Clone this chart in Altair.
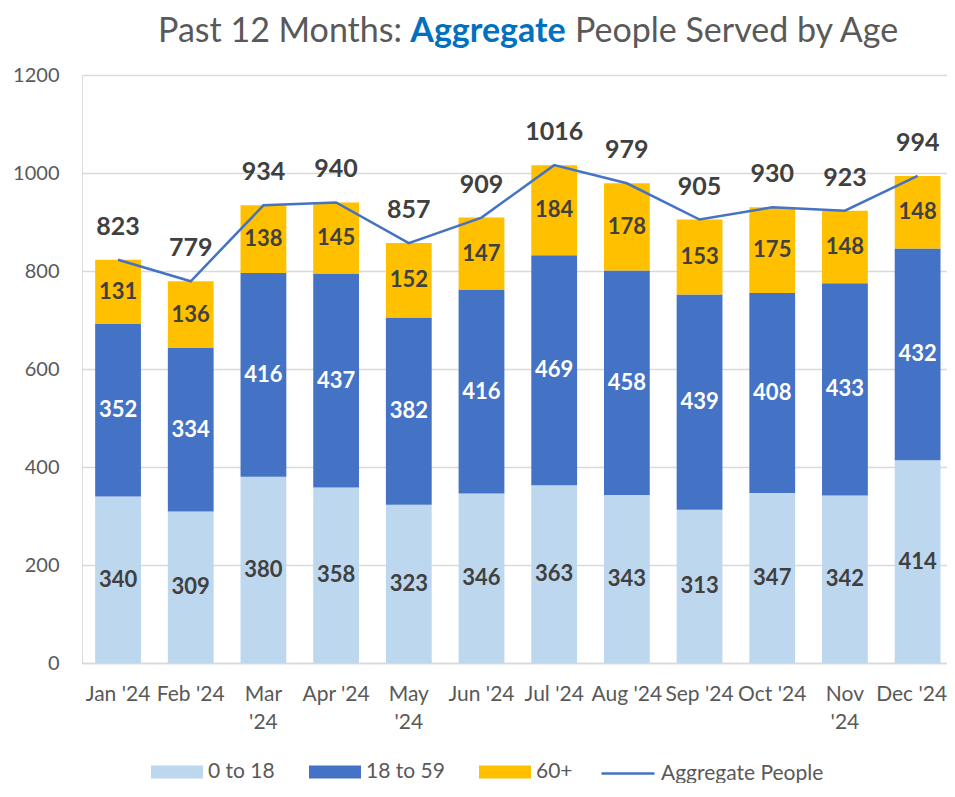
import json
import altair as alt
import pandas as pd

months = ["Jan '24", "Feb '24", "Mar '24", "Apr '24", "May '24", "Jun '24",
          "Jul '24", "Aug '24", "Sep '24", "Oct '24", "Nov '24", "Dec '24"]
wrapped_months = ["Mar '24", "May '24", "Nov '24"]
groups = ["0 to 18", "18 to 59", "60+"]
age_0_18 = [340, 309, 380, 358, 323, 346, 363, 343, 313, 347, 342, 414]
age_18_59 = [352, 334, 416, 437, 382, 416, 469, 458, 439, 408, 433, 432]
age_60_plus = [131, 136, 138, 145, 152, 147, 184, 178, 153, 175, 148, 148]
totals = [823, 779, 934, 940, 857, 909, 1016, 979, 905, 930, 923, 994]
line_series = "Aggregate People"
title_parts = ["Past 12 Months:", "Aggregate", "People Served by Age"]

bar_colors = ["#BDD7EE", "#4472C4", "#FFC000"]
line_color = "#4472C4"
FONT = "Lato"
GRAY = "#595959"
DARK = "#404040"

rows = []
for i, m in enumerate(months):
    for gi, vals in enumerate([age_0_18, age_18_59, age_60_plus]):
        rows.append({"month": m, "group": groups[gi], "value": vals[i], "order": gi})
long_df = pd.DataFrame(rows)
tot_df = pd.DataFrame({"month": months, "total": totals, "series": line_series})

label_expr = (f"indexof({json.dumps(wrapped_months)}, datum.label) >= 0 ? "
              "split(datum.label, ' ') : datum.label")
last_label_offset = {"condition": {"test": f"datum.value == {json.dumps(months[-1])}", "value": -6},
                     "value": 0}

x_scale = alt.Scale(paddingInner=0.37, paddingOuter=0.135, align=0.67)
x_enc = alt.X(
    "month:N", sort=months, title=None, scale=x_scale,
    axis=alt.Axis(labelAngle=0, labelFont=FONT, labelFontSize=21, labelColor=GRAY,
                  labelLineHeight=28, labelPadding=20, labelBaseline="top",
                  labelOffset=last_label_offset,
                  ticks=False, domainColor="#D9D9D9", domainWidth=1.5,
                  labelExpr=label_expr, labelOverlap=False, labelLimit=0),
)
y_scale = alt.Scale(domain=[0, 1200], nice=False)
y_axis = alt.Axis(values=[0, 200, 400, 600, 800, 1000, 1200], format="d", labelFont=FONT,
                  labelFontSize=20, labelColor=GRAY, ticks=False, domain=False,
                  gridColor="#D9D9D9", gridWidth=1.3, labelPadding=23, title=None)

LEG_CENTER = 697  # legend row centre, relative to plot top

bars = alt.Chart(long_df).mark_bar().encode(
    x=x_enc,
    y=alt.Y("value:Q", stack="zero", scale=y_scale, axis=y_axis),
    color=alt.Color(
        "group:N", scale=alt.Scale(domain=groups, range=bar_colors),
        legend=alt.Legend(orient="none", legendX=69, legendY=LEG_CENTER - 26,
                          direction="horizontal",
                          title=None, symbolType="M-1,-0.25H1V0.25H-1Z", symbolSize=2704,
                          symbolStrokeWidth=0, labelFont=FONT, labelFontSize=21,
                          labelColor=GRAY, labelOffset=5, columnPadding=34, labelLimit=0),
    ),
    order=alt.Order("order:Q", sort="ascending"),
)

seg_base = alt.Chart(long_df).transform_stack(
    stack="value", groupby=["month"], as_=["y0", "y1"],
    sort=[alt.SortField("order", order="ascending")],
).transform_calculate(mid="(datum.y0 + datum.y1) / 2")

seg_dark = seg_base.transform_filter(alt.datum.group != "18 to 59").mark_text(
    font=FONT, fontSize=22, fontWeight="bold", color=DARK, baseline="middle"
).encode(x=alt.X("month:N", sort=months), y=alt.Y("mid:Q", scale=y_scale), text="value:Q")

seg_light = seg_base.transform_filter(alt.datum.group == "18 to 59").mark_text(
    font=FONT, fontSize=22, fontWeight="bold", color="#FFFFFF", baseline="middle"
).encode(x=alt.X("month:N", sort=months), y=alt.Y("mid:Q", scale=y_scale), text="value:Q")

line = alt.Chart(tot_df).mark_line(strokeWidth=2.5).encode(
    x=alt.X("month:N", sort=months),
    y=alt.Y("total:Q", scale=y_scale),
    stroke=alt.Stroke(
        "series:N", scale=alt.Scale(domain=[line_series], range=[line_color]),
        legend=alt.Legend(orient="none", legendX=518, legendY=LEG_CENTER - 26.5, title=None,
                          symbolType="stroke", symbolSize=2809, symbolStrokeWidth=2.5,
                          labelFont=FONT, labelFontSize=21, labelColor=GRAY, labelOffset=5,
                          labelLimit=0),
    ),
)

tot_text = alt.Chart(tot_df).mark_text(
    font=FONT, fontSize=25, fontWeight="bold", color=DARK, baseline="middle", dy=-33
).encode(x=alt.X("month:N", sort=months), y=alt.Y("total:Q", scale=y_scale), text="total:Q")

TITLE_Y = -33
t_df = pd.DataFrame({"a": [title_parts[0]], "b": [title_parts[1]], "c": [title_parts[2]]})
title_a = alt.Chart(t_df).mark_text(font=FONT, fontSize=34, color=GRAY, align="right",
                                    baseline="alphabetic").encode(
    x=alt.value(320), y=alt.value(TITLE_Y), text="a:N")
title_b = alt.Chart(t_df).mark_text(font=FONT, fontSize=34, fontWeight="bold", color="#0070C0",
                                    align="center", baseline="alphabetic").encode(
    x=alt.value(406), y=alt.value(TITLE_Y), text="b:N")
title_c = alt.Chart(t_df).mark_text(font=FONT, fontSize=34, color=GRAY, align="left",
                                    baseline="alphabetic").encode(
    x=alt.value(493), y=alt.value(TITLE_Y), text="c:N")

chart = alt.layer(bars, seg_dark, seg_light, line, tot_text, title_a, title_b, title_c).properties(
    width=865, height=588,
    autosize=alt.AutoSizeParams(type="none"),
    padding={"left": 74, "top": 67, "right": 0, "bottom": 120},
).resolve_scale(color="independent").configure_view(strokeWidth=0).configure(background="white")

chart.save("out.html", embed_options={"renderer": "svg", "actions": False})
